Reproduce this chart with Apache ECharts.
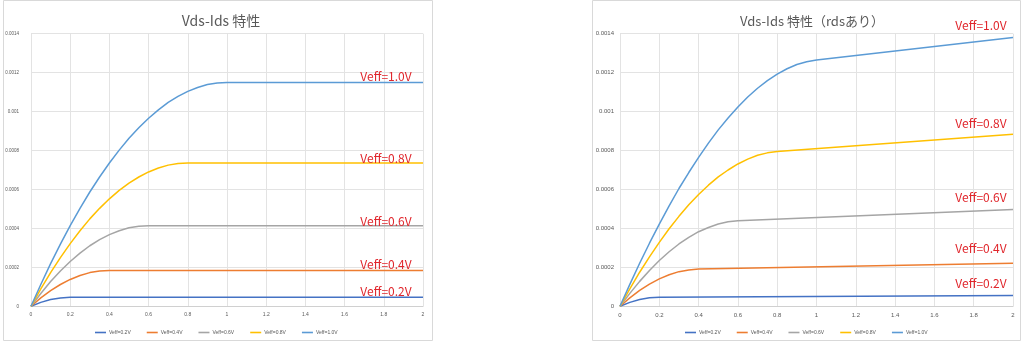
<!DOCTYPE html>
<html><head><meta charset="utf-8">
<script src="https://cdn.jsdelivr.net/npm/echarts@6/dist/echarts.min.js"></script>
<style>html,body{margin:0;padding:0;background:#fff}#c{width:1024px;height:342px}</style>
</head><body><div id="c"></div>
<script>
// ---- data ----
const seriesNames = ['Veff=0.2V','Veff=0.4V','Veff=0.6V','Veff=0.8V','Veff=1.0V'];
const xTicks = [0,0.2,0.4,0.6,0.8,1,1.2,1.4,1.6,1.8,2];
const yTicks = [0,0.0002,0.0004,0.0006,0.0008,0.001,0.0012,0.0014];
const leftTitle = 'Vds-Ids 特性';
const rightTitle = 'Vds-Ids 特性（rdsあり）';
const annotationTexts = ['Veff=0.2V','Veff=0.4V','Veff=0.6V','Veff=0.8V','Veff=1.0V'];

// left chart (no rds): [Vds, Ids]
const L02 = [[0,0],[0.05,0.0000201],[0.1,0.0000345],[0.15,0.0000431],[0.2,0.000046],[2,0.000046]];
const L04 = [[0,0],[0.05,0.0000431],[0.1,0.0000805],[0.15,0.000112],[0.2,0.000138],[0.25,0.000158],[0.3,0.000173],[0.35,0.000181],[0.4,0.000184],[2,0.000184]];
const L06 = [[0,0],[0.05,0.0000661],[0.1,0.000127],[0.15,0.000181],[0.2,0.00023],[0.25,0.000273],[0.3,0.000311],[0.35,0.000342],[0.4,0.000368],[0.45,0.000388],[0.5,0.000403],[0.55,0.000411],[0.6,0.000414],[2,0.000414]];
const L08 = [[0,0],[0.05,0.0000891],[0.1,0.000173],[0.15,0.00025],[0.2,0.000322],[0.25,0.000388],[0.3,0.000449],[0.35,0.000503],[0.4,0.000552],[0.45,0.000595],[0.5,0.000633],[0.55,0.000664],[0.6,0.00069],[0.65,0.00071],[0.7,0.000725],[0.75,0.000733],[0.8,0.000736],[2,0.000736]];
const L10 = [[0,0],[0.05,0.000112],[0.1,0.000219],[0.15,0.000319],[0.2,0.000414],[0.25,0.000503],[0.3,0.000587],[0.35,0.000664],[0.4,0.000736],[0.45,0.000802],[0.5,0.000863],[0.55,0.000917],[0.6,0.000966],[0.65,0.001009],[0.7,0.001047],[0.75,0.001078],[0.8,0.001104],[0.85,0.001124],[0.9,0.001139],[0.95,0.001147],[1,0.00115],[2,0.00115]];

// right chart (with rds)
const R02 = [[0,0],[0.05,0.0000202],[0.1,0.0000348],[0.15,0.0000437],[0.2,0.0000469],[2,0.0000552]];
const R04 = [[0,0],[0.05,0.0000433],[0.1,0.0000813],[0.15,0.000114],[0.2,0.000141],[0.25,0.000162],[0.3,0.000178],[0.35,0.000187],[0.4,0.000191],[2,0.000221]];
const R06 = [[0,0],[0.05,0.0000664],[0.1,0.000128],[0.15,0.000184],[0.2,0.000235],[0.25,0.00028],[0.3,0.00032],[0.35,0.000354],[0.4,0.000383],[0.45,0.000405],[0.5,0.000423],[0.55,0.000434],[0.6,0.000439],[2,0.000497]];
const R08 = [[0,0],[0.05,0.0000895],[0.1,0.000175],[0.15,0.000254],[0.2,0.000328],[0.25,0.000398],[0.3,0.000462],[0.35,0.000521],[0.4,0.000574],[0.45,0.000622],[0.5,0.000665],[0.55,0.0007],[0.6,0.000731],[0.65,0.000756],[0.7,0.000776],[0.75,0.000788],[0.8,0.000795],[2,0.000883]];
const R10 = [[0,0],[0.05,0.0001126],[0.1,0.000221],[0.15,0.000324],[0.2,0.000422],[0.25,0.000516],[0.3,0.000605],[0.35,0.000687],[0.4,0.000765],[0.45,0.000838],[0.5,0.000906],[0.55,0.000967],[0.6,0.001024],[0.65,0.001075],[0.7,0.00112],[0.75,0.001159],[0.8,0.001192],[0.85,0.00122],[0.9,0.001242],[0.95,0.001256],[1,0.001265],[2,0.00138]];

const leftData = [L02,L04,L06,L08,L10];
const rightData = [R02,R04,R06,R08,R10];

// ---- styling / layout ----
const colors = ['#4472C4','#ED7D31','#A5A5A5','#FFC000','#5B9BD5'];
const red = '#E0262C';
const gridColor = '#E3E3E3';
const fmt = v => v === 0 ? '0' : String(+v.toFixed(4));

function xAxis(gi, fs){
  return {type:'value', gridIndex:gi, min:xTicks[0], max:xTicks[xTicks.length-1], interval:xTicks[1]-xTicks[0],
    axisLine:{lineStyle:{color:'#D0D0D0'}}, axisTick:{show:false},
    axisLabel:{color:'#595959', fontSize:fs, margin:6, formatter:fmt, fontFamily:'Liberation Sans'},
    splitLine:{show:true, lineStyle:{color:gridColor, width:1}}};
}
function yAxis(gi, fs, margin){
  return {type:'value', gridIndex:gi, min:yTicks[0], max:yTicks[yTicks.length-1], interval:yTicks[1]-yTicks[0],
    axisLine:{show:false}, axisTick:{show:false},
    axisLabel:{color:'#595959', fontSize:fs, margin:margin, formatter:fmt, fontFamily:'Liberation Sans'},
    splitLine:{show:true, lineStyle:{color:gridColor, width:1}}};
}
const series = [];
seriesNames.forEach((n,i)=>{
  series.push({name:n, type:'line', xAxisIndex:0, yAxisIndex:0, data:leftData[i], showSymbol:false, symbol:'none',
    smooth:false, lineStyle:{width:1.5, color:colors[i]}, itemStyle:{color:colors[i]}, z:3});
  series.push({name:n, type:'line', xAxisIndex:1, yAxisIndex:1, data:rightData[i], showSymbol:false, symbol:'none',
    smooth:false, lineStyle:{width:1.5, color:colors[i]}, itemStyle:{color:colors[i]}, z:3});
});
const leftAnnY = [291,264,221,158,76];
const rightAnnY = [283,248,197,123,25];
const graphics = [
  {type:'rect', shape:{x:3.5,y:0.5,width:429,height:340}, style:{fill:'#fff', stroke:'#D9D9D9', lineWidth:1}, z:-10},
  {type:'rect', shape:{x:592.5,y:0.5,width:428,height:340}, style:{fill:'#fff', stroke:'#D9D9D9', lineWidth:1}, z:-10}
];
annotationTexts.forEach((t,i)=>{
  graphics.push({type:'text', x:386, y:leftAnnY[i], style:{text:t, fill:red, font:'12px "Noto Sans CJK JP"', textAlign:'center', textVerticalAlign:'middle'}, z:10});
  graphics.push({type:'text', x:981, y:rightAnnY[i], style:{text:t, fill:red, font:'12px "Noto Sans CJK JP"', textAlign:'center', textVerticalAlign:'middle'}, z:10});
});
const legendCommon = {itemWidth:11, itemHeight:6, itemGap:16, icon:'path://M0,0 L11,0 L11,1.6 L0,1.6 Z',
  textStyle:{fontSize:5, color:'#595959', fontFamily:'Liberation Sans', padding:[0,0,0,-2]}, data:seriesNames, selectedMode:false};

const chart = echarts.init(document.getElementById('c'), null, {renderer:'canvas'});
chart.setOption({
  animation:false,
  backgroundColor:'#fff',
  title:[
    {text:leftTitle, left:216, top:16, textAlign:'center', textVerticalAlign:'middle',
      textStyle:{fontSize:14, fontWeight:'normal', color:'#595959', fontFamily:'"Noto Sans CJK JP"'}},
    {text:rightTitle, left:807, top:16, textAlign:'center', textVerticalAlign:'middle',
      textStyle:{fontSize:13, fontWeight:'normal', color:'#595959', fontFamily:'"Noto Sans CJK JP"'}}
  ],
  grid:[
    {left:31, right:601, top:33.7, bottom:35.7},
    {left:620, right:11, top:33.7, bottom:35.7}
  ],
  xAxis:[xAxis(0,5), xAxis(1,6)],
  yAxis:[yAxis(0,4.5,12), yAxis(1,6,6)],
  legend:[
    Object.assign({}, legendCommon, {top:325, left:90}),
    Object.assign({}, legendCommon, {top:325, left:680})
  ],
  graphic:graphics,
  series:series
});
</script></body></html>
